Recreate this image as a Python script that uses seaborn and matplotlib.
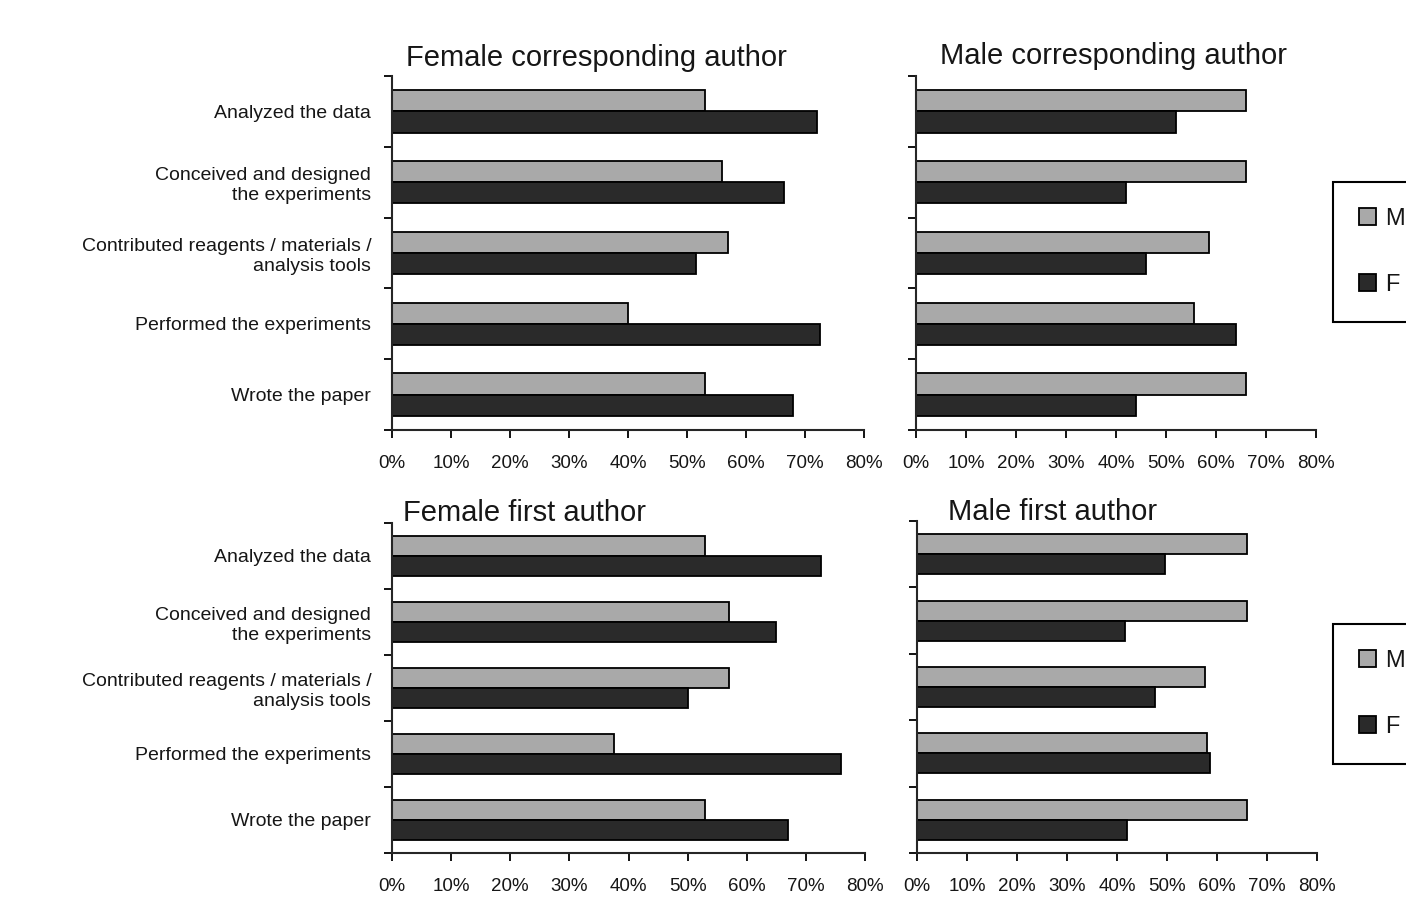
import numpy as np
import pandas as pd
import matplotlib
matplotlib.use("Agg")
import matplotlib.pyplot as plt
from matplotlib.patches import Patch
from matplotlib.ticker import FixedLocator, FuncFormatter
import seaborn as sns

# Author contribution categories (top to bottom)
contributions = [
    "Analyzed the data",
    "Conceived and designed\nthe experiments",
    "Contributed reagents / materials /\nanalysis tools",
    "Performed the experiments",
    "Wrote the paper",
]
sexes = ["M", "F"]

# Share of each contribution (%) by sex of contributing author
female_corr_M = [53, 56, 57, 40, 53]
female_corr_F = [72, 66.5, 51.5, 72.5, 68]
male_corr_M = [66, 66, 58.5, 55.5, 66]
male_corr_F = [52, 42, 46, 64, 44]
female_first_M = [53, 57, 57, 37.5, 53]
female_first_F = [72.5, 65, 50, 76, 67]
male_first_M = [66, 66, 57.5, 58, 66]
male_first_F = [49.5, 41.5, 47.5, 58.5, 42]

x_ticks = list(range(0, 81, 10))
panel_titles = ["Female corresponding author", "Male corresponding author",
                "Female first author", "Male first author"]
panel_values = [
    (female_corr_M, female_corr_F),
    (male_corr_M, male_corr_F),
    (female_first_M, female_first_F),
    (male_first_M, male_first_F),
]

sns.set_style("ticks")
plt.rcParams["font.family"] = ["Liberation Sans", "DejaVu Sans"]
plt.rcParams["axes.linewidth"] = 1.5
plt.rcParams["text.color"] = "#161616"
plt.rcParams["xtick.color"] = "black"
plt.rcParams["ytick.color"] = "black"
plt.rcParams["xtick.labelcolor"] = "#161616"
plt.rcParams["ytick.labelcolor"] = "#161616"

W, H = 1406, 902
fig = plt.figure(figsize=(W / 100, H / 100), dpi=100)
fig.patch.set_facecolor("white")

# axes boxes in pixels: left, top, right, bottom
boxes = [
    (392, 76, 864, 430),
    (916, 76, 1316, 430),
    (392, 523, 865, 853),
    (917, 521, 1317, 853),
]
# title placement: (x px, baseline y px, ha)
title_pos = [
    (406, 66, "left"),
    (1114, 64, "center"),
    (403, 521, "left"),
    (1053, 520, "center"),
]

colors = {"M": "#a9a9a9", "F": "#2a2a2a"}

for i, ((l, t, r, b), title, (mv, fv), (tx, ty, tha)) in enumerate(
        zip(boxes, panel_titles, panel_values, title_pos)):
    ax = fig.add_axes([l / W, 1 - b / H, (r - l) / W, (b - t) / H])
    df = pd.DataFrame({
        "task": contributions * 2,
        "sex": ["M"] * len(contributions) + ["F"] * len(contributions),
        "pct": list(mv) + list(fv),
    })
    sns.barplot(data=df, y="task", x="pct", hue="sex", hue_order=sexes,
                order=contributions, orient="h", palette=colors, width=0.6,
                saturation=1, edgecolor="black", linewidth=1.3,
                legend=False, ax=ax)
    ax.set_xlim(0, 80)
    ax.set_ylim(len(contributions) - 0.5, -0.5)
    ax.set_xlabel("")
    ax.set_ylabel("")
    ax.set_facecolor("none")
    sns.despine(ax=ax)

    ax.xaxis.set_major_locator(FixedLocator(x_ticks))
    ax.xaxis.set_major_formatter(FuncFormatter(lambda v, p: f"{int(v)}%"))
    ax.tick_params(axis="x", direction="out", length=6, width=1.3,
                   labelsize=13.5, pad=12)

    ax.yaxis.set_major_locator(FixedLocator(range(len(contributions))))
    ax.yaxis.set_minor_locator(
        FixedLocator(np.arange(-0.5, len(contributions), 1.0)))
    ax.tick_params(axis="y", which="major", length=0, pad=15,
                   labelsize=14)
    ax.tick_params(axis="y", which="minor", direction="out", length=6,
                   width=1.3)
    if i % 2 == 0:
        ax.set_yticklabels(contributions, linespacing=1.25)
    else:
        ax.set_yticklabels([])

    fig.text(tx / W, 1 - ty / H, title, ha=tha, va="baseline",
             fontsize=21)

    if i % 2 == 1:
        handles = [Patch(facecolor=colors[s], edgecolor="black", linewidth=1.3)
                   for s in sexes]
        ly = 182 if i == 1 else 624
        leg = fig.legend(handles, sexes, loc="upper left",
                         bbox_to_anchor=(1333 / W, 1 - ly / H),
                         bbox_transform=fig.transFigure, borderaxespad=0,
                         frameon=True, fancybox=False, edgecolor="black",
                         framealpha=1, fontsize=17, handlelength=0.7,
                         handleheight=0.7, handletextpad=0.4,
                         labelspacing=1.85, borderpad=1.1)
        leg.get_frame().set_linewidth(1.5)

fig.savefig("out.png", dpi=100, facecolor="white")
